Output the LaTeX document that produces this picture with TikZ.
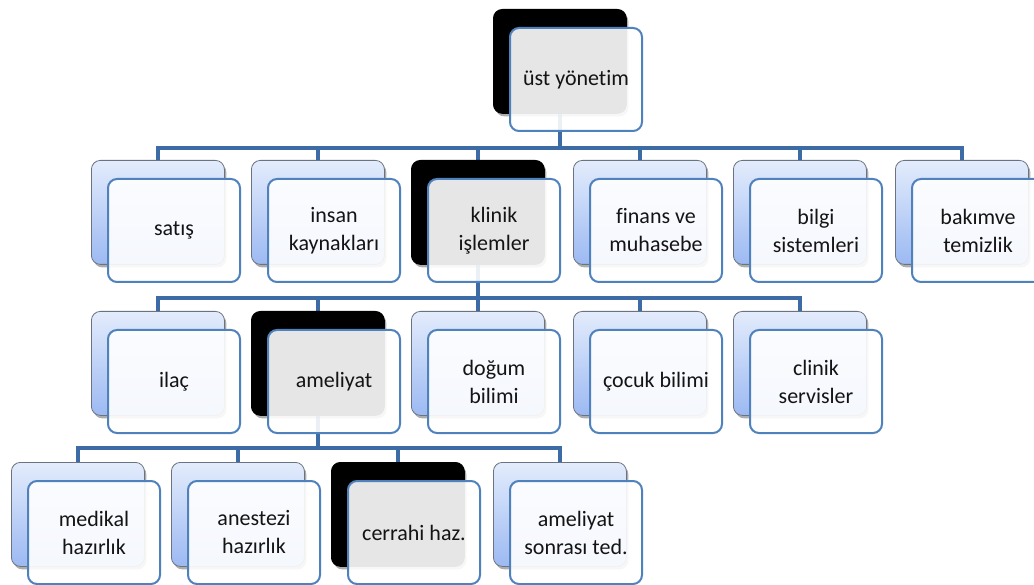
\documentclass[tikz,border=0pt]{standalone}
\usepackage{fontspec}
\setmainfont{Carlito}[Ligatures={NoCommon}]
\usetikzlibrary{shadows,calc}
\pgfdeclarelayer{bg}
\pgfsetlayers{bg,main}
\definecolor{linkblue}{HTML}{3C6BA5}
\definecolor{frameblue}{HTML}{4F81BD}
\definecolor{backtop}{HTML}{E3ECFC}
\definecolor{backbot}{HTML}{9CB9F2}
\definecolor{backedge}{HTML}{6B7280}
\definecolor{inktext}{HTML}{141414}

\tikzset{
  backbox/.style={anchor=north west, minimum width=133pt, minimum height=104pt,
    inner sep=0pt, rounded corners=9pt, draw=backedge, line width=0.8pt,
    top color=backtop, bottom color=backbot,
    drop shadow={shadow xshift=2pt, shadow yshift=-3pt, opacity=0.4, fill=black!80}},
  darkbox/.style={backbox, top color=black, bottom color=black, draw=black},
  frontbox/.style={anchor=north west, minimum width=132pt, minimum height=103pt,
    inner sep=4pt, rounded corners=9pt, draw=frameblue, line width=2pt,
    fill=white, fill opacity=0.9, text opacity=1, text=inktext, align=center,
    font=\fontsize{22}{28}\selectfont},
  link/.style={draw=linkblue, line width=4pt}
}

% one unit = a back plate and a framed label plate offset to the lower right
\newcommand\orgunit[5]{%
  \node[#4] (b#1) at (#2,#3) {};
  \node[frontbox] (f#1) at ($(#2,#3)+(16,18)$) {#5};
}

\begin{document}
\begin{tikzpicture}[x=1pt, y=-1pt]
\useasboundingbox (0,0) rectangle (1034,585);

% top level
\orgunit{top}{493}{9}{darkbox}{üst yönetim}

% departments
\orgunit{sat}{91}{160}{backbox}{satış}
\orgunit{ik}{251}{160}{backbox}{insan\\kaynakları}
\orgunit{kl}{411}{160}{darkbox}{klinik\\işlemler}
\orgunit{fin}{573}{160}{backbox}{finans ve\\muhasebe}
\orgunit{bs}{733}{160}{backbox}{bilgi\\sistemleri}
\orgunit{bak}{895}{160}{backbox}{bakımve\\temizlik}

% clinical operations
\orgunit{ilac}{91}{311}{backbox}{ilaç}
\orgunit{amel}{251}{311}{darkbox}{ameliyat}
\orgunit{dog}{411}{311}{backbox}{doğum\\bilimi}
\orgunit{coc}{573}{311}{backbox}{çocuk bilimi}
\orgunit{cs}{733}{311}{backbox}{clinik\\servisler}

% surgery
\orgunit{med}{11}{462}{backbox}{medikal\\hazırlık}
\orgunit{ane}{171}{462}{backbox}{anestezi\\hazırlık}
\orgunit{cer}{331}{462}{darkbox}{cerrahi haz.}
\orgunit{ast}{493}{462}{backbox}{ameliyat\\sonrası ted.}

% connectors behind the plates
\begin{pgfonlayer}{bg}
  \foreach \c in {sat,ik,kl,fin,bs,bak}
    \draw[link] (btop.south) -- ++(0,34) -| (b\c.north);
  \foreach \c in {ilac,amel,dog,coc,cs}
    \draw[link] (bkl.south) -- ++(0,33) -| (b\c.north);
  \foreach \c in {med,ane,cer,ast}
    \draw[link] (bamel.south) -- ++(0,32) -| (b\c.north);
\end{pgfonlayer}
\end{tikzpicture}
\end{document}
